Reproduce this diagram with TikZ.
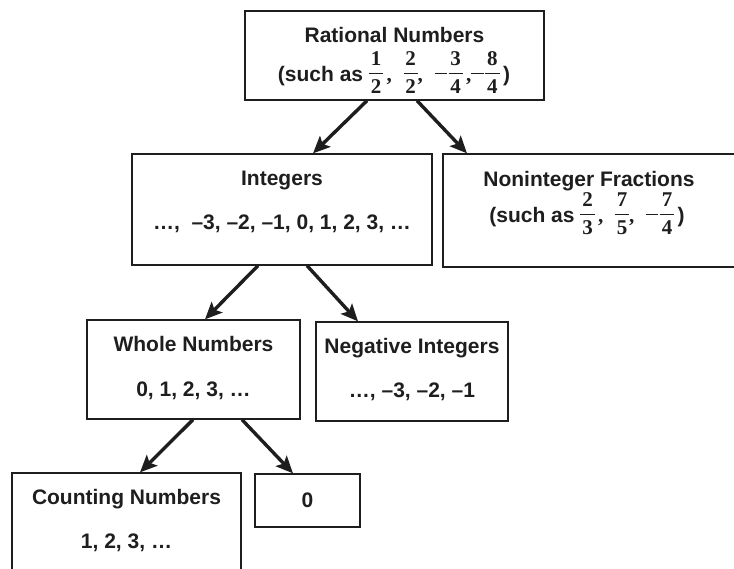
\documentclass[tikz,border=0pt]{standalone}
\usepackage{fontspec}
\setmainfont{Liberation Sans}
\newfontfamily\serifb{Liberation Serif}
\usetikzlibrary{arrows.meta}
\definecolor{ink}{HTML}{1E1E1E}
\newlength\frw
\newcommand\fr[3][]{{\serifb\bfseries#1\settowidth\frw{0}\addtolength\frw{3.6pt}%
\rlap{\rule[7pt]{\frw}{1.4pt}}%
\rlap{\makebox[\frw]{\raisebox{15.9pt}{#2}}}%
\makebox[\frw]{\raisebox{-12.3pt}{#3}}}}
\newcommand\mn{\rule[7pt]{12.5pt}{1.4pt}\kern1.5pt}
\newcommand\sercomma{{\serifb\bfseries ,}}
\begin{document}
\begin{tikzpicture}[x=1pt,y=-1pt,
  box/.style={draw=ink,line width=1.3pt,rectangle,inner sep=0pt},
  lbl/.style={anchor=base,inner sep=0pt,text=ink,font=\fontsize{21}{25}\selectfont\bfseries},
  arr/.style={draw=ink,line width=3.4pt,-{Stealth[length=17pt,width=15pt,inset=3.5pt]}}]
\useasboundingbox (0,0) rectangle (734,568);
\clip (0,0) rectangle (734,568);
% boxes
\node[box,minimum width=299pt,minimum height=89pt] (rat) at (394.5,55.5) {};
\node[box,minimum width=300pt,minimum height=111pt] (int) at (282,209.5) {};
\node[box,minimum width=292pt,minimum height=113pt] (non) at (589,210.5) {};
\node[box,minimum width=213pt,minimum height=99pt] (whole) at (193.5,369.5) {};
\node[box,minimum width=192pt,minimum height=99pt] (neg) at (412,371.5) {};
\node[box,minimum width=229pt,minimum height=117pt] (count) at (126.5,531.5) {};
\node[box,minimum width=105pt,minimum height=53pt] (zero) at (307.5,500.5) {};
% labels
\node[lbl] (rat1) at (394.5,42) {Rational Numbers};
\node[lbl] (rat2) at (394,81) {(such as \fr{1}{2}\,\sercomma\ \ \fr{2}{2}\sercomma\ \ \fr[\mn]{3}{4}\,\sercomma\fr[\mn]{8}{4}\,)};
\node[lbl] (int1) at (282,185) {Integers};
\node[lbl] (int2) at (282,229) {…,\ \ –3, –2, –1, 0, 1, 2, 3, …};
\node[lbl] (non1) at (589,186) {Noninteger Fractions};
\node[lbl] (non2) at (587,222) {(such as \fr{2}{3}\,\sercomma\ \ \fr{7}{5}\sercomma\ \ \fr[\mn]{7}{4}\,)};
\node[lbl] (whole1) at (193.5,351.5) {Whole Numbers};
\node[lbl] (whole2) at (193.5,396) {0, 1, 2, 3, …};
\node[lbl] (neg1) at (412,353) {Negative Integers};
\node[lbl] (neg2) at (412,397) {…, –3, –2, –1};
\node[lbl] (count1) at (126.5,504) {Counting Numbers};
\node[lbl] (count2) at (126.5,548) {1, 2, 3, …};
\node[lbl] (zero1) at (307.5,507) {0};
% arrows
\draw[arr] ([xshift=-27.5pt]rat.south) -- ([xshift=31pt]int.north);
\draw[arr] ([xshift=22.5pt]rat.south) -- ([xshift=-122pt]non.north);
\draw[arr] ([xshift=-24pt]int.south) -- ([xshift=11.5pt]whole.north);
\draw[arr] ([xshift=25pt]int.south) -- ([xshift=-54pt]neg.north);
\draw[arr] ([xshift=-0.5pt]whole.south) -- ([xshift=13.5pt]count.north);
\draw[arr] ([xshift=48.5pt]whole.south) -- ([xshift=-14.5pt]zero.north);
\end{tikzpicture}
\end{document}
